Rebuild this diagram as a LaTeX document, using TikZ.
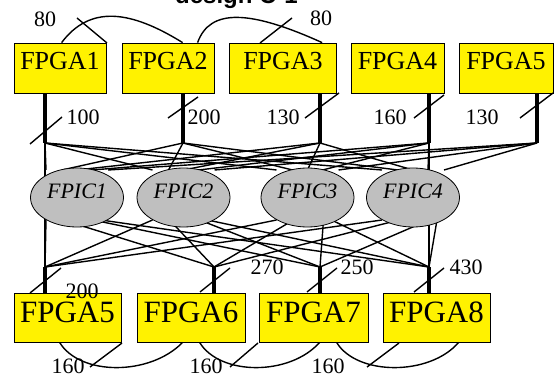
\documentclass[tikz,border=0pt]{standalone}
\usepackage{fontspec}
\setmainfont{Liberation Serif}
\setsansfont{Liberation Sans}
\usetikzlibrary{calc,shapes.geometric,backgrounds}

\tikzset{
  fpga/.style={draw=black, line width=0.8pt, fill=yellow, inner sep=0pt,
    minimum height=50pt, font=\fontsize{26}{26}\selectfont,
    text height=18pt, text depth=14pt},
  fpgabig/.style={fpga, minimum height=49pt, font=\fontsize{31}{31}\selectfont,
    text height=21pt, text depth=10pt},
  fpic/.style={ellipse, draw=black, line width=0.8pt, fill=black!25,
    minimum width=93pt, minimum height=59pt, inner sep=0pt,
    font=\fontsize{22}{22}\selectfont\itshape, text height=15pt, text depth=12pt},
  wire/.style={line width=1.4pt},
  stub/.style={line width=4.2pt},
  num/.style={font=\fontsize{22}{22}\selectfont, inner sep=0pt},
}

\begin{document}
\begin{tikzpicture}[x=1pt, y=-1pt]
  \useasboundingbox (0,0) rectangle (554,379);

  \node[font=\sffamily\bfseries\fontsize{24}{24}\selectfont, anchor=base] (title) at (236.5,4) {design C-1};

  % upper row of FPGAs
  \node[fpga, minimum width=92pt]  (up1) at (60,68)    {FPGA1};
  \node[fpga, minimum width=92pt]  (up2) at (168,68)   {FPGA2};
  \node[fpga, minimum width=107pt] (up3) at (283,68)   {FPGA3};
  \node[fpga, minimum width=93pt]  (up4) at (397.5,68) {FPGA4};
  \node[fpga, minimum width=94pt]  (up5) at (506,68)   {FPGA5};

  % lower row of FPGAs
  \node[fpgabig, minimum width=107pt] (lo5) at (67.5,317.5)  {FPGA5};
  \node[fpgabig, minimum width=108pt] (lo6) at (191,317.5)   {FPGA6};
  \node[fpgabig, minimum width=109pt] (lo7) at (313.5,317.5) {FPGA7};
  \node[fpgabig, minimum width=107pt] (lo8) at (436.5,317.5) {FPGA8};

  % the FPICs in the middle
  \node[fpic] (fpic1) at (77,197.5)    {FPIC1};
  \node[fpic] (fpic2) at (183.5,197.5) {FPIC2};
  \node[fpic] (fpic3) at (307.5,197.5) {FPIC3};
  \node[fpic] (fpic4) at (413,197.5)   {FPIC4};

  % bus junctions
  \coordinate (ju1) at (45,143);
  \coordinate (ju2) at (183,143);
  \coordinate (ju3) at (320,143);
  \coordinate (ju4) at (429,143);
  \coordinate (ju5) at (537,143);
  \coordinate (jl5) at (45,267);
  \coordinate (jl6) at (214,267);
  \coordinate (jl7) at (320,267);
  \coordinate (jl8) at (429,267);

  % ports on the FPICs
  \foreach \f in {1,...,4} {
    \foreach \t/\o in {1/-31,2/-15,3/0,4/15,5/31}
      \coordinate (pu\f\t) at ($(fpic\f.center)+(\o,-27.5)$);
    \foreach \b/\o in {5/-31,6/-14,7/16,8/24}
      \coordinate (pl\f\b) at ($(fpic\f.center)+(\o,22.5)$);
  }

  \begin{pgfonlayer}{background}
    \foreach \f in {1,...,4} {
      \foreach \t in {1,...,5} \draw[wire] (ju\t) -- (pu\f\t);
      \foreach \b in {5,...,8} \draw[wire] (jl\b) -- (pl\f\b);
    }
    \draw[wire] (ju1) -- (jl5);
    \draw[wire] (ju4) -- (jl8);
    \foreach \n in {1,...,5} \draw[stub] (ju\n) -- (ju\n |- up\n.south);
    \foreach \n in {5,...,8} \draw[stub] (jl\n) -- (jl\n |- lo\n.north);
  \end{pgfonlayer}

  % direct links between neighbours
  \draw[wire] ($(up1.north west)+(48,0)$) .. controls (90,5) and (130,10) .. ($(up2.north west)+(61,0)$);
  \draw[wire] ($(up2.north west)+(76,0)$) .. controls (210,8) and (250,10) .. ($(up3.north west)+(93,0)$);
  \draw[wire] ($(lo5.south west)+(46,0)$) .. controls (80,376) and (150,376) .. ($(lo6.south west)+(46,0)$);
  \draw[wire] ($(lo6.south west)+(63,0)$) .. controls (220,376) and (290,376) .. ($(lo7.south west)+(61,0)$);
  \draw[wire] ($(lo7.south west)+(78,0)$) .. controls (357,376) and (430,376) .. ($(lo8.south west)+(76,0)$);

  % width marks
  \draw[wire] (30,144) -- (62,117);
  \draw[wire] (168,118) -- (198,97);
  \draw[wire] (305,118) -- (339,93);
  \draw[wire] (414,118) -- (444,95);
  \draw[wire] (520,118) -- (553,93);
  \draw[wire] (77,18) -- (107,43);
  \draw[wire] (260,43) -- (292,18);
  \draw[wire] (30,293) -- (61,268);
  \draw[wire] (200,292) -- (230,268);
  \draw[wire] (307,292) -- (337,268);
  \draw[wire] (414,292) -- (444,268);
  \draw[wire] (122,343) -- (90,367);
  \draw[wire] (258,343) -- (230,367);
  \draw[wire] (399,343) -- (367,367);

  \node[num] (w1)  at (83,117)  {100};
  \node[num] (w2)  at (204,117) {200};
  \node[num] (w3)  at (283,117) {130};
  \node[num] (w4)  at (390,117) {160};
  \node[num] (w5)  at (482,117) {130};
  \node[num] (w12) at (45,19)   {80};
  \node[num] (w23) at (321,18)  {80};
  \node[num] (w6)  at (82,291)  {200};
  \node[num] (w7)  at (267,267) {270};
  \node[num] (w8)  at (357,267) {250};
  \node[num] (w9)  at (466,267) {430};
  \node[num] (w56) at (68,366)  {160};
  \node[num] (w67) at (206,366) {160};
  \node[num] (w78) at (328,366) {160};
\end{tikzpicture}
\end{document}
